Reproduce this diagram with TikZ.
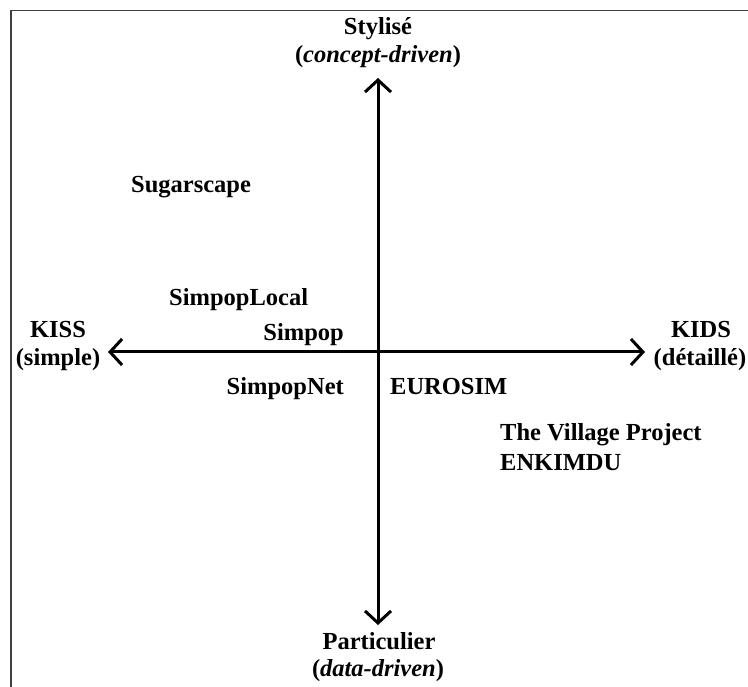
\documentclass[tikz,border=0pt]{standalone}
\usepackage{fontspec}
\setmainfont{Liberation Serif}
\usetikzlibrary{arrows.meta}
\begin{document}
\begin{tikzpicture}[x=1pt,y=-1pt,
  lbl/.style={inner sep=0pt,font=\fontsize{24.5}{28}\selectfont\bfseries},
  tipb/.tip={Straight Barb[length=12pt,width=26pt,line width=3pt]},
  axis/.style={line width=3pt,tipb-tipb},
  frame/.style={line width=1.3pt,black!75}]
\useasboundingbox (0,0) rectangle (748,687);
% frame
\coordinate (fbl) at (11,687);
\coordinate (ftl) at (11,10.5);
\coordinate (ftr) at (748,10.5);
\draw[frame] (fbl) -- (ftl) -- (ftr);
% axes
\coordinate (n) at (378,78);
\coordinate (s) at (378,625);
\coordinate (w) at (108,352);
\coordinate (e) at (645,352);
\draw[axis] (n) -- (s);
\draw[axis] (w) -- (e);
% axis labels
\node[lbl,anchor=base] (t1) at (378,35) {Stylisé};
\node[lbl,anchor=base] (t2) at (378,63) {(\textit{concept-driven})};
\node[lbl,anchor=base] (l1) at (58,338) {KISS};
\node[lbl,anchor=base] (l2) at (58,366) {(simple)};
\node[lbl,anchor=base] (r1) at (701,338) {KIDS};
\node[lbl,anchor=base] (r2) at (700,366) {(détaillé)};
\node[lbl,anchor=base] (b1) at (379,649) {Particulier};
\node[lbl,anchor=base] (b2) at (378,676) {(\textit{data-driven})};
% models
\node[lbl,anchor=base west] (sug) at (131,193) {Sugarscape};
\node[lbl,anchor=base west] (spl) at (169,306) {SimpopLocal};
\node[lbl,anchor=base east] (sp) at (344,341) {Simpop};
\node[lbl,anchor=base east] (spn) at (344,395) {SimpopNet};
\node[lbl,anchor=base west] (eur) at (390,395) {EUROSIM};
\node[lbl,anchor=base west] (vil) at (500,440) {The Village Project};
\node[lbl,anchor=base west] (enk) at (500,470) {ENKIMDU};
\end{tikzpicture}
\end{document}
